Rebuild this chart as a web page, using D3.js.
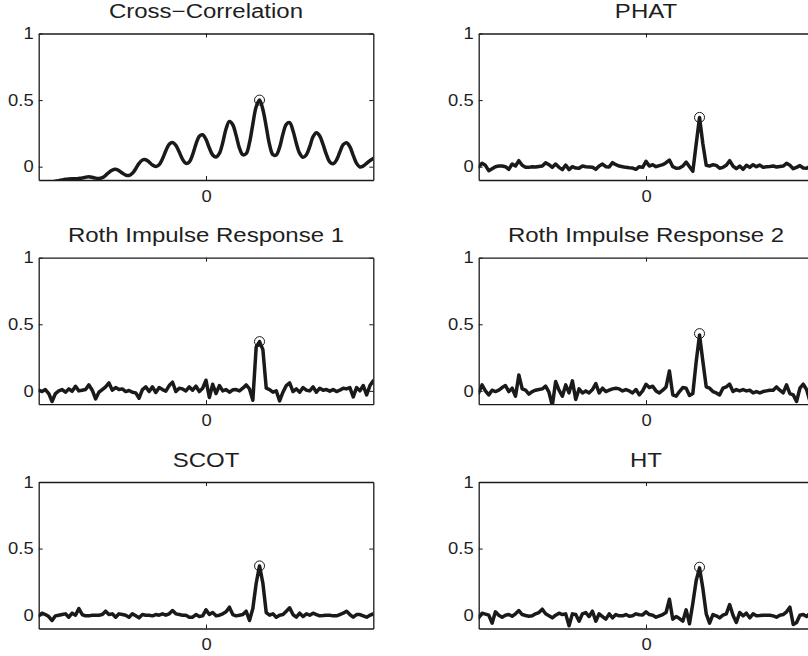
<!DOCTYPE html>
<html>
<head>
<meta charset="utf-8">
<script src="https://cdn.jsdelivr.net/npm/d3@7"></script>
<style>
  html, body { margin: 0; padding: 0; background: #fff; }
  svg { display: block; }
  text { font-family: "Liberation Sans", Arial, Helvetica, sans-serif; fill: #1e1e1e; }
</style>
</head>
<body>
<svg id="chart" width="808" height="656"></svg>
<script>
// ---------------- data ----------------
const titles = ["Cross\u2212Correlation", "PHAT", "Roth Impulse Response 1", "Roth Impulse Response 2", "SCOT", "HT"];
const lags = d3.range(-50, 51); // lag index -50 .. 50

const crossCorr = [
 -0.135,-0.13,-0.125,-0.12,-0.115,-0.11,-0.105,-0.1,-0.095,-0.092,
 -0.09,-0.09,-0.088,-0.085,-0.079,-0.076,-0.08,-0.086,-0.088,-0.082,
 -0.065,-0.042,-0.025,-0.02,-0.03,-0.048,-0.063,-0.066,-0.05,-0.015,
 0.025,0.05,0.052,0.035,0.012,0.002,0.015,0.06,0.12,0.168,
 0.182,0.16,0.11,0.055,0.025,0.035,0.09,0.17,0.228,0.24,
 0.205,
 0.14,0.088,0.073,0.1,0.18,0.285,0.34,0.315,0.235,0.14,
 0.09,0.098,0.18,0.32,0.45,0.5,0.43,0.3,0.165,0.09,
 0.088,0.145,0.245,0.318,0.33,0.27,0.175,0.1,0.07,0.09,
 0.15,0.225,0.255,0.23,0.165,0.09,0.035,0.022,0.05,0.11,
 0.165,0.18,0.15,0.085,0.025,-0.002,0.005,0.025,0.045,0.062
];

const phat = [
 0.0,0.025,0.01,-0.03,-0.015,0.0,0.005,0.005,0.0,-0.02,
 0.02,0.005,0.045,0.01,-0.005,-0.005,0.0,-0.003,0.002,0.005,
 0.03,0.015,-0.005,0.02,-0.005,-0.022,0.012,-0.022,0.0,-0.01,
 -0.012,0.005,0.0,-0.002,-0.005,-0.02,0.005,0.02,0.0,-0.002,
 0.03,0.015,0.005,0.0,-0.005,-0.008,-0.01,-0.02,0.0,-0.005,
 0.04,
 0.005,0.015,0.0,0.008,0.015,0.03,0.05,0.0,-0.012,-0.01,
 0.005,0.035,0.0,-0.035,0.17,0.37,0.17,0.01,0.005,0.015,
 0.01,-0.012,-0.005,0.01,0.045,0.005,-0.015,0.005,-0.02,0.01,
 -0.005,0.015,0.0,0.012,-0.005,0.0,0.002,0.005,-0.002,0.002,
 0.005,0.025,0.01,-0.015,-0.005,0.008,-0.01,-0.012,0.002,0.0
];

const roth1 = [
 0.005,-0.005,0.01,-0.02,-0.08,-0.02,0.0,0.01,-0.01,0.015,
 -0.003,0.035,0.0,0.005,0.01,0.045,0.005,-0.06,-0.01,0.01,
 0.03,0.06,0.005,0.025,0.01,0.015,-0.005,0.003,-0.01,-0.015,
 -0.055,0.01,0.03,-0.005,0.03,-0.012,0.025,0.01,-0.002,0.04,
 0.065,-0.005,0.02,0.015,0.0,0.03,0.005,0.035,-0.005,0.02,
 0.08,
 -0.05,0.05,-0.02,0.04,0.0,0.01,-0.01,0.008,0.01,0.0,
 0.02,0.045,0.015,-0.07,0.33,0.37,0.31,0.02,0.01,-0.01,
 0.0,-0.075,-0.01,0.04,0.06,-0.005,0.015,-0.01,0.025,0.005,
 0.0,0.03,-0.01,0.02,0.005,0.01,-0.002,0.01,-0.005,0.005,
 0.02,0.015,0.025,-0.045,0.025,0.0,0.04,-0.03,0.04,0.075
];

const roth2 = [
 -0.015,0.045,0.0,-0.03,0.005,-0.005,0.005,0.025,0.04,-0.005,
 0.02,-0.04,0.12,0.015,0.005,-0.025,-0.005,0.005,0.01,0.015,
 0.035,-0.01,-0.11,0.07,0.005,-0.04,0.045,-0.015,0.075,-0.065,
 0.015,-0.015,0.0,-0.015,0.01,0.055,-0.015,0.02,-0.005,0.005,
 0.015,0.02,0.015,0.0,0.01,0.0,-0.015,0.01,-0.03,0.0,
 0.05,
 0.025,0.035,0.0,-0.015,0.005,0.03,0.15,-0.03,-0.04,-0.005,
 0.025,0.02,-0.035,-0.02,0.22,0.42,0.22,0.03,0.02,-0.005,
 -0.015,-0.03,0.02,0.03,0.05,-0.005,0.01,0.0,0.01,0.0,
 0.005,-0.015,-0.005,-0.015,-0.005,0.0,0.005,0.005,0.03,0.005,
 -0.015,0.045,-0.02,-0.03,-0.08,0.02,0.05,0.01,-0.08,-0.1
];

const scot = [
 -0.005,0.015,0.005,-0.01,-0.04,-0.005,0.0,0.005,0.01,-0.015,
 0.015,0.0,0.05,0.005,-0.005,-0.005,0.0,0.0,0.0,0.005,
 0.03,0.005,0.01,-0.015,0.01,0.005,0.0,-0.015,0.01,-0.005,
 -0.02,0.005,0.0,0.0,-0.005,0.005,0.0,0.01,0.0,0.01,
 0.035,0.01,0.005,0.0,0.0,-0.015,-0.015,0.005,-0.01,-0.005,
 0.04,
 0.005,0.02,-0.005,0.0,0.01,0.025,0.06,0.005,-0.005,0.0,
 0.005,0.03,-0.04,0.05,0.24,0.37,0.24,0.02,0.0,0.01,
 -0.015,0.0,0.005,0.03,0.055,0.005,-0.015,0.015,-0.01,0.01,
 0.0,0.015,0.005,-0.005,-0.003,0.0,0.0,-0.005,-0.005,0.005,
 0.015,0.03,0.005,-0.015,0.005,0.005,-0.005,-0.015,0.0,0.01
];

const ht = [
 -0.02,0.015,0.008,0.0,-0.06,0.025,0.0,-0.015,0.0,0.005,
 -0.008,0.01,0.035,0.005,-0.002,-0.008,-0.005,0.01,0.02,0.045,
 0.01,-0.005,-0.02,0.0,0.015,0.005,0.01,-0.08,0.01,0.005,
 -0.045,0.01,0.02,-0.01,0.03,-0.045,0.01,-0.01,-0.03,0.01,
 -0.02,0.005,-0.005,-0.005,0.005,-0.008,-0.005,0.01,0.003,0.002,
 0.025,
 0.005,0.0,-0.015,-0.005,0.005,0.02,0.12,-0.03,-0.01,-0.025,
 -0.045,0.04,-0.065,0.09,0.26,0.355,0.2,0.01,-0.06,0.005,
 -0.005,-0.02,0.0,0.01,0.08,0.0,-0.055,0.02,-0.005,0.015,
 -0.02,0.01,-0.005,-0.003,0.0,0.0,0.0,-0.005,-0.015,0.0,
 0.005,0.025,0.06,-0.07,-0.055,0.0,0.005,-0.01,0.015,0.02
];

const seriesList = [crossCorr, phat, roth1, roth2, scot, ht];
const smoothFlags = [true, false, false, false, false, false];
const peakLag = 16;
const peakValues = [0.5, 0.37, 0.37, 0.43, 0.37, 0.36];
const yTicks = [0, 0.5, 1];
const yTickLabels = ["0", "0.5", "1"];
const xTicks = [0];
const xTickLabels = ["0"];
const xDomain = [-50, 50];
const yDomain = [-0.1, 1];

// ---------------- layout ----------------
const colX = [38.7, 478.7];
const rowY = [33.5, 257.7, 482];
const W = 334.6, H = 146.5;
const FONT = '"Liberation Sans", Arial, Helvetica, sans-serif';

const svg = d3.select("#chart");

// widen text horizontally (reference glyphs are slightly stretched)
function stretch(sel, factor) {
  sel.each(function() {
    const L = this.getComputedTextLength();
    if (L > 0) {
      d3.select(this).attr("textLength", L * factor).attr("lengthAdjust", "spacingAndGlyphs");
    }
  });
}

seriesList.forEach((vals, i) => {
  const col = i % 2, row = Math.floor(i / 2);
  const g = svg.append("g").attr("transform", `translate(${colX[col]},${rowY[row]})`);

  const x = d3.scaleLinear().domain(xDomain).range([0, W]);
  const y = d3.scaleLinear().domain(yDomain).range([H, 0]);

  const clipId = "clip" + i;
  g.append("clipPath").attr("id", clipId)
    .append("rect").attr("x", 0).attr("y", 0).attr("width", W).attr("height", H);

  const line = d3.line()
    .x((d, k) => x(lags[k]))
    .y(d => y(d))
    .curve(smoothFlags[i] ? d3.curveCatmullRom.alpha(0.5) : d3.curveLinear);

  g.append("path")
    .datum(vals)
    .attr("clip-path", `url(#${clipId})`)
    .attr("d", line)
    .attr("fill", "none")
    .attr("stroke", "#1a1a1a")
    .attr("stroke-width", 3.5)
    .attr("stroke-linejoin", "round")
    .attr("stroke-linecap", "round");

  g.append("circle")
    .attr("cx", x(peakLag))
    .attr("cy", y(peakValues[i]))
    .attr("r", 5)
    .attr("fill", "none")
    .attr("stroke", "#1a1a1a")
    .attr("stroke-width", 1);

  const axStyle = sel => {
    sel.select(".domain").attr("stroke", "#1a1a1a").attr("stroke-width", 1.3);
    sel.selectAll(".tick line").attr("stroke", "#1a1a1a").attr("stroke-width", 1);
    sel.selectAll(".tick text")
      .attr("font-family", FONT)
      .attr("font-size", 16.3)
      .attr("fill", "#1e1e1e");
  };

  const yLeft = d3.axisLeft(y).tickValues(yTicks)
    .tickFormat((d, k) => yTickLabels[k]).tickSizeInner(-4).tickSizeOuter(0).tickPadding(5);
  const gl = g.append("g").call(yLeft).call(axStyle);
  stretch(gl.selectAll(".tick text"), 1.13);

  const yRight = d3.axisRight(y).tickValues(yTicks).tickFormat("").tickSizeInner(-4).tickSizeOuter(0);
  g.append("g").attr("transform", `translate(${W},0)`).call(yRight).call(axStyle);

  const xBottom = d3.axisBottom(x).tickValues(xTicks)
    .tickFormat((d, k) => xTickLabels[k]).tickSizeInner(-4).tickSizeOuter(0).tickPadding(10);
  const gb = g.append("g").attr("transform", `translate(0,${H})`).call(xBottom).call(axStyle);
  stretch(gb.selectAll(".tick text"), 1.13);

  const xTop = d3.axisTop(x).tickValues(xTicks).tickFormat("").tickSizeInner(-4).tickSizeOuter(0);
  g.append("g").call(xTop).call(axStyle);

  const t = g.append("text")
    .attr("x", W / 2)
    .attr("y", -15.3)
    .attr("text-anchor", "middle")
    .attr("font-family", FONT)
    .attr("font-size", 20)
    .attr("fill", "#1e1e1e")
    .text(titles[i]);
  stretch(t, 1.2);
});
</script>
</body>
</html>
